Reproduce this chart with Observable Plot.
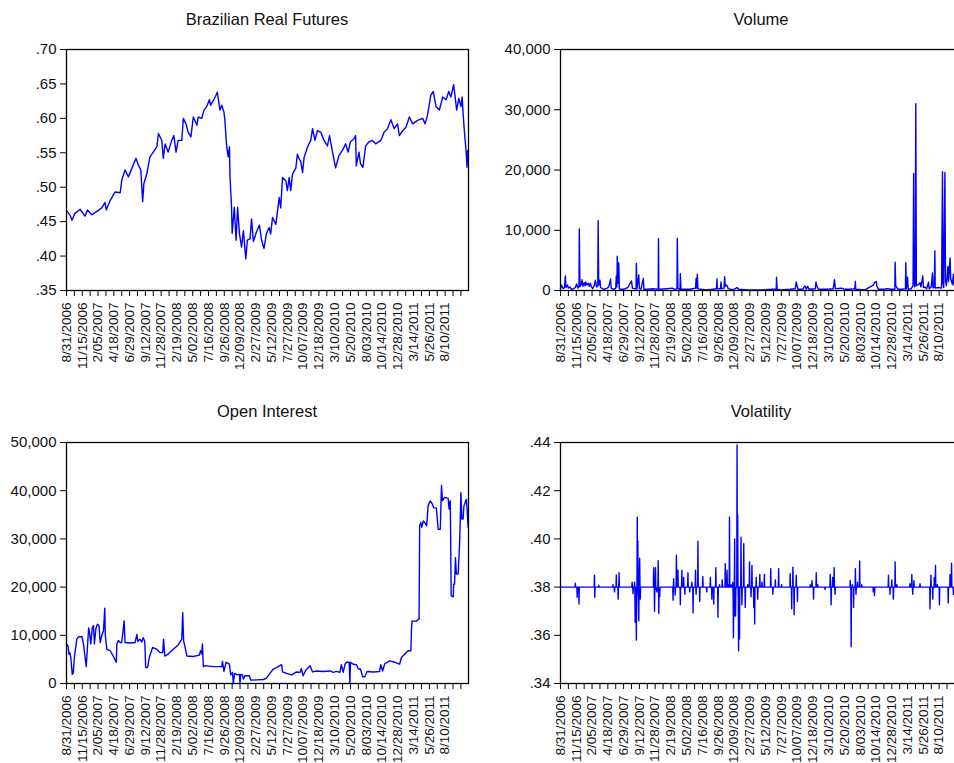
<!DOCTYPE html>
<html><head><meta charset="utf-8">
<script src="https://cdn.jsdelivr.net/npm/d3@7"></script>
<script src="https://cdn.jsdelivr.net/npm/@observablehq/plot@0.6"></script>
<style>
body{margin:0;background:#fff;}
#wrap{position:relative;width:954px;height:763px;overflow:hidden;background:#fff;font-family:"Liberation Sans",Arial,sans-serif;}
.panel{position:absolute;}
.title{position:absolute;font-size:16.5px;line-height:16px;color:#111;transform:translateX(-50%);white-space:nowrap;}
</style></head><body><div id="wrap"></div><script>
// x = observation index (trading days since 8/31/2006), y = value
const dateLabels = ["8/31/2006","11/15/2006","2/05/2007","4/18/2007","6/29/2007","9/12/2007","11/28/2007","2/19/2008","5/02/2008","7/16/2008","9/26/2008","12/09/2008","2/27/2009","5/12/2009","7/27/2009","10/07/2009","12/18/2009","3/10/2010","5/20/2010","8/03/2010","10/14/2010","12/28/2010","3/14/2011","5/26/2011","8/10/2011"];
const obsPerLabel = 52;
const lastObs = 1325;

const futures = [[0,.466],[12,.459],[18,.452],[28,.462],[45,.468],[61,.458],[69,.467],[84,.460],[100,.465],[116,.470],[127,.478],[131,.467],[144,.481],[160,.493],[177,.492],[182,.510],[193,.525],[204,.515],[215,.527],[229,.542],[237,.532],[245,.525],[251,.479],[255,.505],[265,.520],[275,.544],[286,.551],[298,.559],[303,.578],[314,.568],[319,.542],[325,.563],[335,.551],[347,.568],[354,.575],[361,.551],[368,.568],[380,.568],[385,.600],[394,.592],[401,.580],[410,.573],[418,.602],[430,.590],[434,.602],[446,.600],[453,.612],[462,.617],[471,.627],[475,.619],[484,.626],[490,.631],[497,.638],[506,.612],[512,.619],[519,.609],[522,.597],[528,.559],[533,.544],[537,.559],[539,.515],[544,.471],[546,.433],[553,.471],[559,.423],[564,.471],[570,.433],[577,.413],[583,.437],[591,.396],[596,.423],[605,.425],[610,.454],[616,.421],[626,.435],[636,.445],[643,.423],[651,.411],[659,.433],[668,.4415],[673,.432],[679,.456],[690,.446],[701,.485],[706,.470],[712,.514],[723,.509],[728,.495],[734,.514],[739,.495],[745,.519],[756,.528],[761,.548],[767,.541],[772,.538],[778,.521],[783,.543],[794,.558],[805,.568],[811,.585],[819,.568],[827,.582],[838,.580],[849,.568],[860,.560],[867,.575],[876,.553],[887,.528],[898,.546],[909,.553],[920,.563],[928,.551],[936,.566],[947,.570],[953,.575],[955,.531],[964,.551],[969,.534],[977,.529],[986,.560],[997,.566],[1008,.568],[1019,.563],[1036,.568],[1047,.580],[1058,.585],[1069,.598],[1080,.585],[1091,.592],[1097,.575],[1108,.582],[1119,.587],[1130,.602],[1141,.592],[1157,.597],[1174,.600],[1182,.592],[1190,.605],[1201,.634],[1209,.639],[1218,.617],[1229,.612],[1240,.631],[1251,.627],[1260,.639],[1267,.631],[1276,.649],[1286,.612],[1293,.629],[1300,.617],[1304,.631],[1308,.602],[1312,.578],[1317,.553],[1320,.529],[1322,.553],[1324,.539]];

const volume = [[0,300],[3,900],[6,600],[9,300],[13,500],[16,2400],[18,500],[23,900],[26,400],[31,600],[36,200],[43,300],[49,500],[53,1100],[57,400],[61,800],[62,10200],[64,600],[68,1000],[71,1800],[74,700],[78,1300],[81,800],[83,1400],[87,900],[91,1200],[95,700],[98,1200],[102,600],[106,300],[112,900],[115,1700],[119,600],[123,800],[124,11600],[126,900],[130,1700],[132,500],[138,300],[143,200],[151,300],[159,600],[165,1900],[167,400],[176,200],[182,400],[184,2400],[186,600],[187,5700],[189,1200],[192,4600],[194,300],[198,200],[208,200],[222,500],[234,1600],[237,400],[244,300],[249,300],[250,4500],[252,300],[258,2600],[260,300],[265,200],[273,2000],[275,200],[286,200],[303,300],[322,200],[323,8600],[324,300],[329,200],[350,300],[368,400],[378,200],[384,300],[385,8700],[387,300],[394,200],[395,2800],[397,200],[406,200],[426,200],[445,400],[447,2000],[449,400],[451,2700],[453,300],[461,200],[482,100],[501,200],[514,300],[516,1900],[517,300],[527,300],[529,1400],[531,300],[539,400],[541,2300],[543,700],[547,900],[549,800],[553,300],[568,100],[579,400],[582,500],[587,200],[615,100],[662,100],[700,200],[711,200],[712,2200],[714,200],[725,100],[757,200],[774,300],[777,1400],[780,800],[783,200],[799,200],[804,700],[807,700],[810,200],[815,700],[819,200],[840,300],[842,1400],[845,800],[850,200],[880,200],[899,300],[903,1800],[906,300],[927,400],[937,200],[955,200],[970,300],[972,1500],[973,200],[1003,100],[1031,900],[1035,1300],[1041,1500],[1043,700],[1048,200],[1069,200],[1077,300],[1088,200],[1102,200],[1103,4700],[1105,800],[1112,200],[1126,200],[1137,300],[1138,4600],[1140,300],[1144,2200],[1146,200],[1156,300],[1162,800],[1164,19400],[1165,1200],[1166,7100],[1167,600],[1169,800],[1171,31000],[1173,800],[1181,1000],[1185,1300],[1188,600],[1194,2400],[1196,500],[1201,600],[1207,300],[1213,1400],[1215,300],[1222,600],[1226,2900],[1228,400],[1232,600],[1234,6600],[1235,400],[1244,500],[1256,400],[1259,19700],[1261,1200],[1263,500],[1267,19600],[1269,1400],[1272,800],[1277,4000],[1279,1500],[1284,5400],[1286,2000],[1289,1500],[1292,1000],[1295,2700],[1298,800],[1305,1200],[1315,700],[1324,900]];

const openInterest = [[0,8200],[5,7800],[8,6100],[11,6400],[14,5400],[19,1900],[22,2100],[26,5400],[28,6400],[34,9200],[40,9700],[51,9700],[56,8200],[65,3500],[69,7500],[73,11500],[75,11000],[80,8200],[85,11600],[89,12000],[92,8200],[97,11400],[102,12300],[107,12000],[111,8500],[116,9900],[122,11000],[126,15600],[128,9900],[133,7100],[144,6800],[154,5700],[164,4400],[166,8200],[171,8900],[177,8500],[182,8500],[190,13000],[193,8500],[210,8400],[226,8500],[232,10200],[235,8700],[242,9200],[248,8600],[253,9500],[258,8700],[261,3300],[267,3300],[273,5400],[284,7500],[298,7100],[308,6400],[317,6400],[320,9200],[324,5700],[335,6100],[352,7100],[368,8000],[380,9200],[383,14700],[386,8900],[397,5700],[418,5600],[438,5900],[442,6800],[446,6100],[448,8200],[451,3500],[457,3700],[484,3500],[512,3500],[514,4600],[519,2500],[526,4400],[537,4000],[541,1800],[547,2300],[550,0],[554,2100],[563,1800],[570,1900],[572,0],[574,1900],[580,1800],[583,900],[588,1600],[603,1600],[607,700],[626,760],[649,830],[659,1100],[673,2300],[682,3000],[692,3300],[709,3900],[712,2400],[725,2100],[742,1800],[758,2400],[770,2300],[774,3100],[780,1600],[789,2800],[803,3700],[811,2400],[824,2600],[846,2500],[869,2600],[879,2300],[890,2500],[901,2300],[906,3900],[912,2300],[918,4000],[923,4400],[932,4400],[934,0],[936,4400],[945,4000],[956,3900],[962,3000],[969,3000],[976,1400],[983,1400],[991,2500],[1011,2400],[1032,2500],[1036,3900],[1042,2600],[1049,4100],[1065,4700],[1082,4400],[1098,4000],[1104,5400],[1115,6100],[1126,6800],[1135,6800],[1137,11100],[1139,13000],[1153,12900],[1159,13300],[1162,13300],[1164,32700],[1168,33400],[1171,32400],[1176,33700],[1181,33400],[1187,32700],[1192,36900],[1199,37900],[1206,37200],[1210,36500],[1219,36400],[1225,32000],[1232,32000],[1236,41100],[1239,37900],[1246,38600],[1258,38400],[1261,36200],[1265,37900],[1268,18200],[1275,18000],[1276,20600],[1279,20600],[1282,26100],[1285,22700],[1291,22700],[1296,29600],[1300,39600],[1303,34100],[1307,34100],[1310,36900],[1316,37900],[1318,38200],[1322,34400],[1324,32400]];

const volatility = [[0,.380],[48,.380],[49,.3816],[50,.380],[54,.380],[55,.3758],[56,.380],[60,.380],[61,.373],[62,.380],[111,.380],[112,.3849],[113,.3758],[114,.380],[125,.380],[126,.3808],[127,.380],[172,.380],[173,.381],[174,.380],[177,.380],[178,.378],[179,.380],[183,.380],[184,.385],[185,.380],[189,.380],[190,.375],[191,.380],[192,.380],[193,.386],[194,.380],[235,.380],[236,.382],[237,.380],[238,.380],[239,.3773],[240,.380],[243,.380],[244,.382],[245,.380],[246,.3654],[247,.380],[248,.378],[249,.380],[250,.358],[251,.375],[252,.380],[253,.409],[254,.380],[255,.399],[256,.380],[257,.375],[258,.366],[259,.380],[260,.385],[261,.392],[262,.380],[263,.375],[264,.380],[306,.380],[307,.388],[308,.380],[309,.380],[310,.370],[311,.380],[312,.382],[313,.388],[314,.380],[318,.378],[319,.380],[321,.380],[322,.391],[323,.380],[324,.369],[325,.380],[327,.376],[328,.380],[370,.380],[371,.3745],[372,.380],[373,.3835],[374,.380],[377,.380],[378,.3767],[379,.380],[381,.380],[382,.3932],[383,.380],[386,.380],[387,.387],[388,.380],[394,.380],[395,.3727],[396,.380],[399,.380],[400,.387],[401,.380],[405,.380],[406,.384],[407,.380],[409,.380],[410,.377],[411,.380],[419,.380],[420,.386],[421,.380],[425,.380],[426,.378],[427,.380],[432,.380],[433,.382],[434,.380],[436,.380],[437,.3693],[438,.380],[444,.380],[445,.387],[446,.380],[447,.377],[448,.380],[452,.380],[453,.399],[454,.380],[458,.380],[459,.374],[460,.380],[468,.380],[469,.3844],[470,.380],[481,.380],[482,.378],[483,.380],[493,.380],[494,.384],[495,.380],[498,.380],[499,.375],[500,.380],[504,.380],[505,.373],[506,.380],[511,.380],[512,.388],[513,.380],[518,.380],[519,.3675],[520,.380],[523,.380],[524,.381],[525,.380],[532,.380],[533,.383],[534,.380],[542,.380],[543,.3897],[544,.380],[548,.380],[549,.387],[550,.380],[553,.380],[554,.381],[555,.380],[556,.380],[557,.409],[558,.380],[561,.380],[562,.381],[563,.380],[567,.380],[568,.382],[569,.376],[570,.359],[571,.380],[573,.380],[574,.400],[575,.368],[576,.380],[577,.368],[578,.380],[581,.380],[582,.439],[583,.380],[584,.410],[585,.380],[586,.375],[587,.3536],[588,.380],[589,.380],[590,.3585],[591,.380],[594,.380],[595,.4007],[596,.380],[597,.380],[598,.3727],[599,.380],[603,.380],[604,.398],[605,.380],[608,.380],[609,.3715],[610,.380],[616,.380],[617,.381],[618,.380],[622,.380],[623,.3904],[624,.380],[627,.380],[628,.376],[629,.380],[630,.380],[631,.389],[632,.380],[636,.380],[637,.3715],[638,.380],[639,.380],[640,.3647],[641,.380],[644,.380],[645,.384],[646,.380],[649,.380],[650,.375],[651,.380],[656,.380],[657,.3853],[658,.380],[663,.380],[664,.382],[665,.380],[671,.380],[672,.3853],[673,.380],[692,.380],[693,.3876],[694,.380],[699,.380],[700,.377],[701,.380],[707,.380],[708,.383],[709,.380],[718,.380],[719,.3876],[720,.380],[728,.380],[729,.381],[730,.380],[756,.380],[757,.3856],[758,.380],[761,.380],[762,.371],[763,.380],[765,.380],[766,.3883],[767,.380],[769,.380],[770,.3685],[771,.380],[776,.380],[777,.3849],[778,.380],[780,.380],[781,.374],[782,.380],[822,.380],[823,.381],[824,.380],[828,.380],[829,.3827],[830,.380],[833,.380],[834,.375],[835,.380],[842,.380],[843,.386],[844,.380],[847,.380],[848,.381],[849,.380],[871,.380],[872,.379],[873,.380],[888,.380],[889,.3853],[890,.380],[891,.380],[892,.3727],[893,.380],[896,.380],[897,.384],[898,.380],[901,.380],[902,.388],[903,.380],[904,.380],[905,.377],[906,.380],[954,.380],[955,.3827],[956,.380],[957,.380],[958,.3552],[959,.380],[961,.380],[962,.381],[963,.380],[965,.380],[966,.3715],[967,.380],[971,.380],[972,.3876],[973,.380],[974,.377],[975,.380],[978,.380],[979,.382],[980,.380],[985,.380],[986,.3908],[987,.380],[992,.380],[993,.381],[994,.380],[1030,.380],[1031,.378],[1032,.380],[1034,.380],[1035,.3765],[1036,.380],[1080,.380],[1081,.3849],[1082,.380],[1085,.380],[1086,.377],[1087,.380],[1091,.380],[1092,.383],[1093,.380],[1096,.380],[1097,.375],[1098,.380],[1102,.380],[1103,.3904],[1104,.380],[1108,.380],[1109,.381],[1110,.380],[1151,.380],[1152,.3814],[1153,.380],[1157,.380],[1158,.3853],[1159,.380],[1160,.380],[1161,.377],[1162,.380],[1164,.380],[1165,.3827],[1166,.380],[1184,.380],[1185,.3814],[1186,.380],[1217,.380],[1218,.371],[1219,.380],[1220,.380],[1221,.3849],[1222,.380],[1226,.380],[1227,.375],[1228,.380],[1231,.380],[1232,.384],[1233,.380],[1235,.380],[1236,.389],[1237,.380],[1241,.380],[1242,.381],[1243,.380],[1248,.380],[1249,.3727],[1250,.380],[1277,.380],[1278,.3734],[1279,.380],[1283,.380],[1284,.3853],[1285,.380],[1288,.380],[1289,.3899],[1290,.380],[1294,.380],[1295,.377],[1296,.380],[1325,.380]];

const futuresTicks = [.35,.40,.45,.50,.55,.60,.65,.70];
const volumeTicks = [0,10000,20000,30000,40000];
const oiTicks = [0,10000,20000,30000,40000,50000];
const volTicks = [.34,.36,.38,.40,.42,.44];

const decFmt = d => d3.format(".2f")(d).replace(/^0/, "");
const intFmt = d3.format(",");
const labelTicks = dateLabels.map((_, i) => i * obsPerLabel);
const minorTicks = d3.range(0, lastObs + 1, obsPerLabel / 2);
const FONT = '"Liberation Sans", Arial, Helvetica, sans-serif';
const wrap = document.getElementById("wrap");

function panel(o) {
  const chart = Plot.plot({
    width: o.width, height: o.height,
    marginLeft: o.ml, marginRight: o.mr, marginTop: o.mt, marginBottom: o.mb,
    style: {fontFamily: FONT, fontSize: "15px", color: "#111", background: "transparent", overflow: "visible"},
    x: {domain: [0, lastObs], axis: null},
    y: {domain: o.yDomain, axis: null},
    marks: [
      Plot.line(o.data, {x: d => d[0], y: d => d[1], stroke: "#0000ff", strokeWidth: 1.4}),
      Plot.frame({stroke: "#000", strokeWidth: 1.3}),
      Plot.axisY({ticks: o.yTicks, tickFormat: o.yFormat, tickSize: 6, tickPadding: 4, fontSize: 15, stroke: "#000"}),
      Plot.axisX({ticks: minorTicks, tickFormat: () => "", tickSize: 6, stroke: "#000"}),
      Plot.axisX({ticks: labelTicks, tickFormat: d => dateLabels[Math.round(d / obsPerLabel)], tickSize: 0, tickPadding: 12, tickRotate: -90, fontSize: 13.5})
    ]
  });
  chart.classList.add("panel");
  chart.style.left = o.left + "px";
  chart.style.top = o.top + "px";
  wrap.appendChild(chart);
  const t = document.createElement("div");
  t.className = "title";
  t.textContent = o.title;
  t.style.left = (o.left + o.ml + (o.width - o.ml - o.mr) / 2) + "px";
  t.style.top = o.titleTop + "px";
  wrap.appendChild(t);
}

panel({data: futures, title: "Brazilian Real Futures", left: 0, top: 0, width: 477, height: 390, ml: 66, mr: 9, mt: 49, mb: 100, yDomain: [.35, .70], yTicks: futuresTicks, yFormat: decFmt, titleTop: 11});
panel({data: volume, title: "Volume", left: 477, top: 0, width: 490, height: 390, ml: 83, mr: 5, mt: 49, mb: 100, yDomain: [0, 40000], yTicks: volumeTicks, yFormat: intFmt, titleTop: 11});
panel({data: openInterest, title: "Open Interest", left: 0, top: 390, width: 477, height: 373, ml: 66, mr: 9, mt: 52, mb: 80, yDomain: [0, 50000], yTicks: oiTicks, yFormat: intFmt, titleTop: 403});
panel({data: volatility, title: "Volatility", left: 477, top: 390, width: 490, height: 373, ml: 83, mr: 5, mt: 52, mb: 80, yDomain: [.34, .44], yTicks: volTicks, yFormat: decFmt, titleTop: 403});
</script></body></html>
